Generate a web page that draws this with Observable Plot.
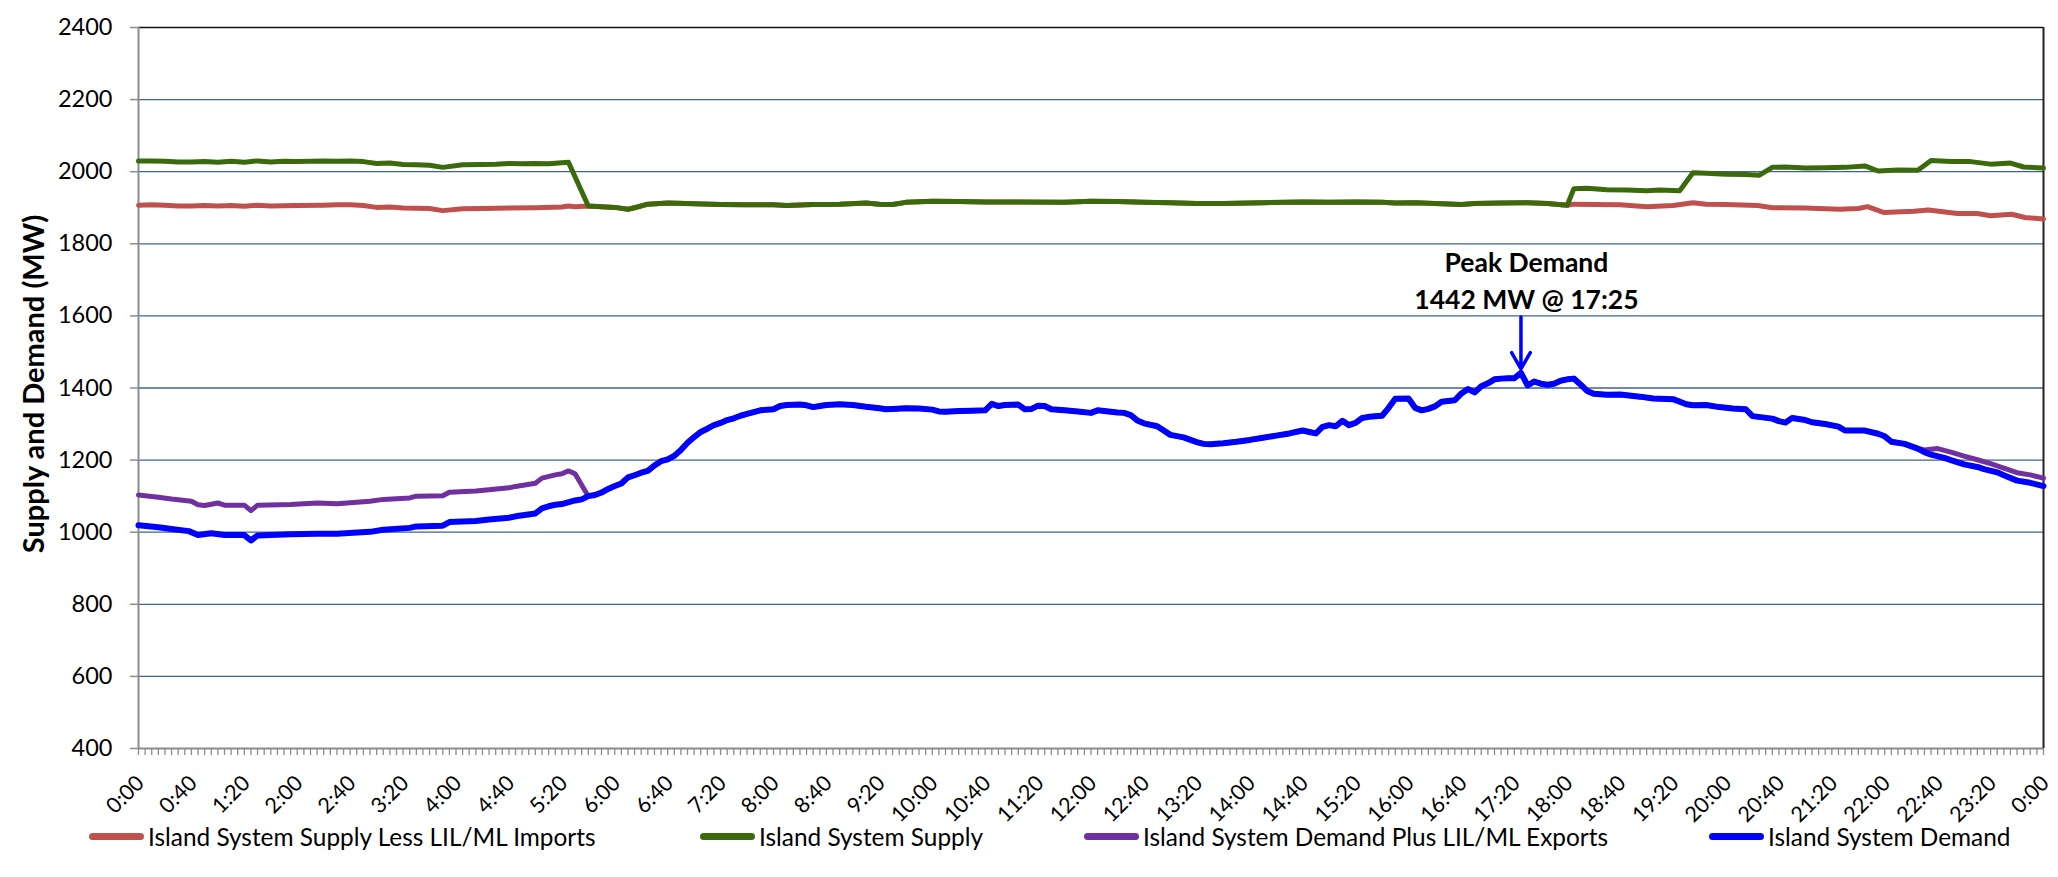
<!DOCTYPE html>
<html>
<head>
<meta charset="utf-8">
<script src="https://cdn.jsdelivr.net/npm/d3@7"></script>
<script src="https://cdn.jsdelivr.net/npm/@observablehq/plot@0.6"></script>
<style>
  html, body { margin: 0; padding: 0; background: #fff; }
  body { width: 2058px; height: 877px; position: relative; overflow: hidden; font-family: Lato, "Open Sans", sans-serif; }
  #chart { position: absolute; left: 0; top: 0; }
  #legend { position: absolute; left: 0; top: 800px; width: 2058px; height: 77px; }
  .item { position: absolute; top: 20px; height: 32px; display: flex; align-items: center; font-size: 24.4px; color: #000; white-space: nowrap; }
  .sw { width: 55px; height: 7px; border-radius: 4px; margin-right: 4px; }
</style>
</head>
<body>
<div id="chart"></div>
<div id="legend"></div>
<script>
// ---------------- DATA (minutes since midnight, MW) ----------------
const seriesNames = [
  "Island System Supply Less LIL/ML Imports",
  "Island System Supply",
  "Island System Demand Plus LIL/ML Exports",
  "Island System Demand"
];

// Island System Supply (green)
const supplyT = [0,10,20,30,40,50,60,70,80,90,100,110,120,130,140,150,160,170,180,190,200,210,220,230,245,260,270,280,290,300,310,320,325,340,350,360,370,375,385,400,420,440,460,480,490,510,530,550,560,570,580,600,620,640,660,700,720,740,760,780,800,820,850,880,900,920,940,950,965,980,1000,1010,1030,1050,1065,1080,1085,1095,1110,1125,1140,1150,1165,1175,1185,1200,1215,1225,1235,1245,1260,1275,1290,1305,1315,1330,1345,1355,1370,1385,1400,1415,1425,1440];
const supplyV = [2030,2030,2029,2027,2027,2028,2026,2029,2026,2030,2027,2029,2028,2029,2030,2029,2030,2028,2023,2024,2020,2019,2018,2012,2019,2020,2021,2023,2022,2023,2022,2025,2026,1905,1903,1901,1896,1900,1910,1913,1911,1909,1908,1908,1906,1909,1910,1913,1910,1909,1915,1918,1917,1916,1916,1915,1918,1917,1915,1914,1912,1912,1914,1916,1915,1916,1915,1913,1914,1912,1909,1912,1913,1914,1912,1907,1953,1954,1950,1949,1947,1949,1947,1997,1996,1993,1992,1990,2012,2013,2010,2011,2012,2016,2002,2005,2004,2031,2028,2028,2021,2024,2013,2010];

// Island System Supply Less LIL/ML Imports (red): own values before 5:40 and after 18:00,
// identical to the supply line in between
const lessImportsEarlyT = [0,10,20,30,40,50,60,70,80,90,100,120,140,150,160,170,180,190,200,220,230,245,260,280,300,320,325,330];
const lessImportsEarlyV = [1907,1908,1907,1905,1905,1906,1905,1906,1904,1907,1905,1906,1907,1908,1908,1906,1901,1902,1899,1898,1892,1897,1898,1899,1900,1902,1905,1903];
const lessImportsLateT = [1085,1100,1120,1140,1160,1175,1185,1200,1224,1235,1260,1286,1300,1307,1319,1342,1353,1375,1390,1400,1416,1426,1440];
const lessImportsLateV = [1910,1909,1908,1903,1906,1914,1910,1909,1906,1900,1899,1896,1898,1903,1887,1890,1894,1884,1884,1878,1882,1873,1869];

// Island System Demand (blue)
const demandT = [0,15,25,38,45,55,65,80,85,90,115,135,150,175,185,205,210,230,235,255,265,280,285,300,305,310,315,320,330,335,340,345,350,355,360,365,370,375,380,385,390,395,400,405,410,415,420,425,430,435,440,445,450,455,460,465,470,475,480,485,490,500,505,510,515,520,530,540,550,560,565,570,580,590,600,605,610,620,630,640,645,650,655,665,670,675,680,685,690,700,710,720,725,730,740,745,750,755,760,770,775,780,790,800,805,810,820,830,840,850,860,870,880,885,890,895,900,905,910,915,920,925,930,940,945,950,960,965,970,975,980,985,995,1000,1005,1010,1015,1020,1025,1030,1035,1040,1045,1050,1055,1060,1065,1070,1075,1080,1085,1090,1095,1100,1110,1120,1125,1135,1145,1160,1170,1175,1185,1195,1205,1215,1220,1235,1240,1245,1250,1260,1265,1275,1285,1290,1305,1315,1320,1325,1335,1345,1350,1355,1365,1370,1380,1390,1395,1405,1410,1420,1430,1440];
const demandV = [1019,1014,1009,1003,992,997,992,992,977,991,994,996,996,1001,1007,1012,1016,1018,1028,1031,1035,1040,1044,1052,1066,1072,1076,1078,1088,1091,1100,1103,1110,1120,1128,1135,1152,1158,1165,1170,1185,1197,1202,1212,1228,1248,1264,1278,1287,1297,1303,1311,1316,1323,1328,1333,1338,1340,1341,1350,1353,1354,1352,1347,1350,1353,1355,1353,1348,1344,1341,1342,1344,1343,1340,1335,1334,1336,1337,1338,1356,1350,1353,1354,1341,1342,1351,1350,1341,1338,1335,1331,1338,1336,1332,1331,1325,1310,1302,1294,1282,1270,1263,1250,1245,1244,1247,1251,1256,1262,1268,1274,1282,1278,1274,1292,1297,1294,1309,1297,1303,1317,1320,1323,1345,1370,1371,1345,1338,1342,1349,1362,1366,1385,1397,1388,1405,1413,1424,1426,1427,1427,1442,1407,1418,1412,1409,1412,1420,1424,1426,1410,1392,1384,1381,1382,1380,1376,1371,1369,1355,1352,1353,1347,1343,1341,1322,1315,1308,1304,1317,1311,1305,1300,1293,1282,1282,1273,1266,1251,1245,1232,1222,1215,1206,1200,1188,1181,1175,1166,1158,1143,1137,1128];

// Island System Demand Plus LIL/ML Exports (purple): own values before 5:40 and after 22:25,
// identical to the demand line in between
const plusExportsEarlyT = [0,15,25,40,45,50,60,65,80,85,90,115,135,150,175,185,205,210,230,235,255,265,280,285,300,305,315,320,325,330];
const plusExportsEarlyV = [1103,1097,1092,1086,1076,1074,1081,1075,1075,1060,1075,1077,1081,1079,1086,1091,1095,1100,1101,1111,1114,1118,1123,1127,1136,1150,1159,1162,1170,1162];
const plusExportsLateT = [1350,1360,1370,1380,1390,1400,1410,1420,1430,1440];
const plusExportsLateV = [1228,1232,1222,1211,1201,1190,1178,1165,1159,1150];

// Annotation
const peakTime = 1045;      // 17:25
const peakValue = 1442;
const peakLabelValue = 1600;
const peakLabel = "Peak Demand\n1442 MW @ 17:25";

// Axes
const yTicks = d3.range(400, 2401, 200);
const yGrid = d3.range(600, 2201, 200);
const xLabelTicks = d3.range(0, 1441, 40);
const xMinorTicks = d3.range(0, 1441, 5);
const yTitle = "Supply and Demand (MW)";

// ---------------- STYLE ----------------
const colors = ["#C0504D", "#3A6A0B", "#7030A0", "#0000FF"];
const widths = [5, 5, 5, 6];

// ---------------- BUILD ----------------
const zip = (T, V) => T.map((t, i) => ({t, v: V[i]}));
const supply = zip(supplyT, supplyV);
const demand = zip(demandT, demandV);
const lessImports = [
  ...zip(lessImportsEarlyT, lessImportsEarlyV),
  ...supply.filter(d => d.t >= 340 && d.t <= 1080),
  ...zip(lessImportsLateT, lessImportsLateV)
];
const plusExports = [
  ...zip(plusExportsEarlyT, plusExportsEarlyV),
  ...demand.filter(d => d.t >= 340 && d.t <= 1345),
  ...zip(plusExportsLateT, plusExportsLateV)
];
const seriesData = [lessImports, supply, plusExports, demand];

const fmt = m => `${Math.floor(m / 60) % 24}:${String(m % 60).padStart(2, "0")}`;

const lineMarks = seriesData.map((data, i) => Plot.line(data, {
  x: "t", y: "v", stroke: colors[i], strokeWidth: widths[i],
  strokeLinejoin: "round", strokeLinecap: "round"
}));

const chart = Plot.plot({
  width: 2058,
  height: 800,
  marginLeft: 138,
  marginRight: 15,
  marginTop: 27,
  marginBottom: 52,
  style: {fontFamily: "Lato, 'Open Sans', sans-serif", fontSize: "22px", color: "#000", background: "#fff", overflow: "visible"},
  x: {domain: [0, 1440], axis: null},
  y: {domain: [400, 2400], axis: null},
  marks: [
    Plot.gridY(yGrid, {stroke: "#3F6290", strokeOpacity: 1, strokeWidth: 1.3}),
    Plot.ruleY([2400], {stroke: "#111", strokeWidth: 1.6}),
    Plot.ruleX([1440], {stroke: "#222", strokeWidth: 2}),
    Plot.axisY(yTicks, {tickSize: 8, tickFormat: () => "", stroke: "#8c8c8c", strokeWidth: 1.5, label: null}),
    Plot.text(yTicks, {frameAnchor: "left", y: d => d, text: d => String(d), textAnchor: "end", dx: -26, fontSize: 23.5, fill: "#000"}),
    Plot.axisX(xMinorTicks, {tickSize: 7, tickFormat: () => "", stroke: "#8c8c8c", strokeWidth: 1.3, label: null}),
    Plot.text(xLabelTicks, {frameAnchor: "bottom", x: d => d, text: fmt, rotate: -45, textAnchor: "end", lineAnchor: "middle",
      dx: 2, dy: 31, fontSize: 21.5, fill: "#000"}),
    Plot.ruleX([0], {stroke: "#8c8c8c", strokeWidth: 2}),
    Plot.ruleY([400], {stroke: "#8c8c8c", strokeWidth: 2}),
    ...lineMarks,
    Plot.arrow([0], {x1: () => peakTime, x2: () => peakTime, y1: () => peakLabelValue, y2: () => peakValue,
      stroke: "#0000FF", strokeWidth: 3.5, headLength: 8, insetEnd: 4, insetStart: 1}),
    Plot.text([peakLabel], {x: () => peakTime, y: () => peakLabelValue, text: d => d, lineAnchor: "bottom",
      dy: -7, dx: 5.5, lineHeight: 1.4, fontSize: 26.5, fontWeight: "bold", fill: "#000"}),
    Plot.text([yTitle], {frameAnchor: "left", text: d => d, rotate: -90, textAnchor: "middle", dx: -104, dy: -4, fontSize: 29, fontWeight: "bold", fill: "#000"})
  ]
});
document.getElementById("chart").appendChild(chart);

// ---------------- LEGEND ----------------
const legendLeft = [89, 700, 1084, 1709];
const legend = d3.select("#legend");
seriesNames.forEach((name, i) => {
  const item = legend.append("div").attr("class", "item").style("left", legendLeft[i] + "px");
  item.append("div").attr("class", "sw").style("background", colors[i]);
  item.append("span").text(name);
});
</script>
</body>
</html>
